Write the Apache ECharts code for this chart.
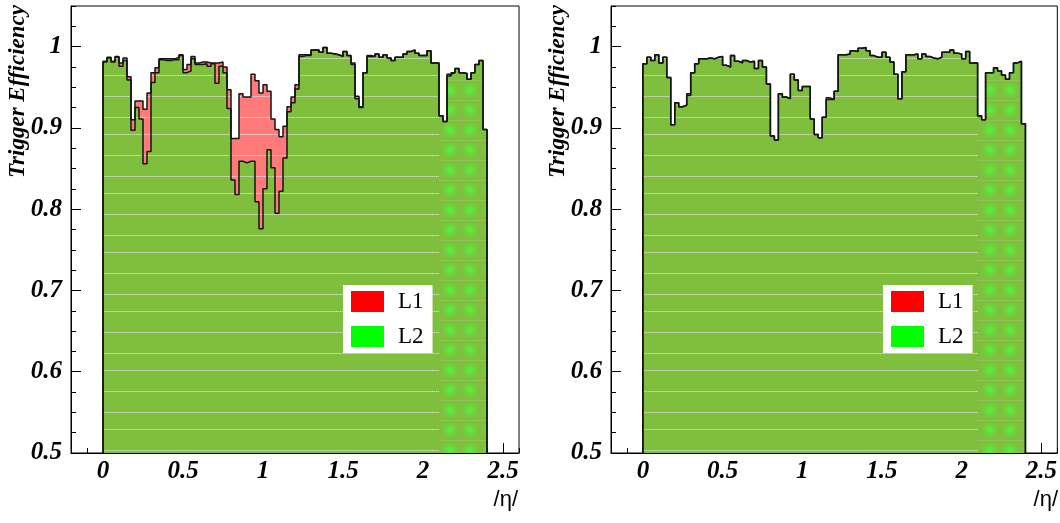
<!DOCTYPE html>
<html><head><meta charset="utf-8">
<script src="https://cdn.jsdelivr.net/npm/echarts@6/dist/echarts.min.js"></script>
<style>html,body{margin:0;padding:0;background:#fff}#c{width:1060px;height:523px}</style>
</head><body><div id="c"></div>
<script>
// ---- data ----
const binWidth = 0.025;          // |eta| bin width, bins from 0 to 2.4
const forwardStartBin = 84;      // |eta| = 2.1, start of forward region
const leftL1 = [0.982,0.987,0.982,0.988,0.980,0.986,0.963,0.910,0.933,0.933,0.923,0.943,0.968,0.974,0.985,0.985,0.985,0.985,0.987,0.990,
  0.972,0.978,0.988,0.980,0.981,0.981,0.980,0.980,0.980,0.981,0.975,0.947,0.887,0.887,0.942,0.938,0.938,0.966,0.958,0.943,
  0.953,0.945,0.911,0.898,0.889,0.902,0.926,0.938,0.953,0.990,0.990,0.990,0.996,0.996,0.993,0.999,0.992,0.991,0.990,0.988,
  0.994,0.989,0.980,0.939,0.926,0.968,0.989,0.988,0.991,0.987,0.990,0.986,0.983,0.987,0.987,0.991,0.994,0.996,0.992,0.989,
  0.989,0.995,0.980,0.980,0.915,0.908,0.966,0.968,0.973,0.968,0.967,0.960,0.968,0.978,0.983,0.898];
const leftL2 = [0.981,0.986,0.981,0.987,0.976,0.983,0.959,0.897,0.925,0.911,0.856,0.871,0.956,0.968,0.984,0.983,0.983,0.984,0.984,0.989,
  0.968,0.970,0.985,0.978,0.978,0.979,0.976,0.979,0.955,0.976,0.968,0.924,0.836,0.818,0.859,0.857,0.859,0.859,0.809,0.776,
  0.825,0.873,0.851,0.795,0.822,0.863,0.920,0.931,0.948,0.988,0.989,0.989,0.996,0.996,0.993,0.999,0.992,0.991,0.990,0.988,
  0.994,0.989,0.978,0.936,0.925,0.968,0.988,0.988,0.991,0.987,0.990,0.986,0.983,0.987,0.987,0.991,0.994,0.996,0.992,0.989,
  0.989,0.995,0.980,0.980,0.915,0.908,0.964,0.968,0.973,0.968,0.967,0.960,0.968,0.978,0.983,0.898];
const rightL1 = [0.979,0.987,0.983,0.990,0.980,0.987,0.962,0.904,0.931,0.926,0.928,0.942,0.968,0.979,0.985,0.985,0.986,0.985,0.987,0.988,
  0.977,0.975,0.989,0.982,0.980,0.983,0.981,0.982,0.973,0.983,0.975,0.954,0.890,0.885,0.942,0.938,0.936,0.966,0.959,0.946,
  0.951,0.951,0.911,0.892,0.888,0.913,0.937,0.935,0.945,0.990,0.990,0.991,0.995,0.994,0.998,0.999,0.995,0.989,0.987,0.987,
  0.993,0.987,0.981,0.966,0.936,0.969,0.990,0.990,0.991,0.985,0.991,0.988,0.986,0.985,0.987,0.993,0.993,0.996,0.992,0.991,
  0.985,0.994,0.980,0.980,0.915,0.910,0.968,0.968,0.974,0.970,0.965,0.960,0.968,0.980,0.982,0.905];
const rightL2 = [0.979,0.987,0.983,0.990,0.980,0.987,0.962,0.904,0.931,0.926,0.928,0.940,0.968,0.979,0.985,0.985,0.986,0.985,0.987,0.988,
  0.977,0.975,0.989,0.982,0.980,0.983,0.981,0.982,0.973,0.983,0.975,0.954,0.890,0.885,0.942,0.938,0.936,0.966,0.959,0.946,
  0.951,0.951,0.911,0.892,0.888,0.913,0.935,0.935,0.945,0.990,0.990,0.991,0.995,0.994,0.998,0.999,0.995,0.989,0.987,0.987,
  0.993,0.987,0.981,0.966,0.936,0.969,0.990,0.990,0.991,0.985,0.991,0.988,0.986,0.985,0.987,0.993,0.993,0.996,0.992,0.991,
  0.985,0.994,0.980,0.980,0.915,0.910,0.968,0.968,0.974,0.970,0.965,0.960,0.968,0.980,0.982,0.905];
const stripesLeft = [0.54, 1.18, 1.83];
const stripesRight = [1.18, 1.82];
const xMajorTicks = [0, 0.5, 1, 1.5, 2, 2.5];
const yMajorTicks = [0.5, 0.6, 0.7, 0.8, 0.9, 1.0];
const legendNames = ['L1', 'L2'];
const yTitle = 'Trigger Efficiency';
const xTitle = '/\u03b7/';

// ---- styling helpers ----
const X_MIN = -0.2, X_MAX = 2.6, Y_MIN = 0.5, Y_MAX = 1.05;
const OLIVE = '#7fbf3d', PINK = '#ff7b7b';
function hatch(base) {
  const c = document.createElement('canvas'); c.width = 4; c.height = 59;
  const g = c.getContext('2d'); g.fillStyle = base; g.fillRect(0, 0, 4, 59);
  g.fillStyle = 'rgba(255,255,255,0.6)';
  [16, 37, 58].forEach(r => { g.fillRect(0, r, 1, 1); g.fillRect(2, r, 1, 1); });
  g.fillStyle = 'rgba(255,255,255,0.25)';
  [16, 37, 58].forEach(r => { g.fillRect(1, r, 1, 1); g.fillRect(3, r, 1, 1); });
  return { image: c, repeat: 'repeat' };
}
function blobs(base) {
  const c = document.createElement('canvas'); c.width = 20; c.height = 20;
  const g = c.getContext('2d'); g.fillStyle = base; g.fillRect(0, 0, 20, 20);
  const gr = g.createRadialGradient(10, 10, 0, 10, 10, 9);
  gr.addColorStop(0, 'rgba(70,255,60,0.95)'); gr.addColorStop(0.5, 'rgba(90,235,60,0.5)'); gr.addColorStop(1, 'rgba(90,235,60,0)');
  g.fillStyle = gr; g.fillRect(0, 0, 20, 20);
  g.fillStyle = 'rgba(255,255,255,0.12)'; g.fillRect(0, 0, 20, 1);
  return { image: c, repeat: 'repeat' };
}
function stepPoints(vals, start, end) {
  const pts = [[start * binWidth, Y_MIN]];
  for (let i = start; i < end; i++) pts.push([i * binWidth, vals[i]]);
  pts.push([end * binWidth, vals[end - 1]]);
  pts.push([end * binWidth, Y_MIN]);
  return pts;
}
const labelFont = { fontFamily: 'Liberation Serif', fontWeight: 'bold', fontStyle: 'italic', fontSize: 25, color: '#000' };

const grids = [], xAxes = [], yAxes = [], series = [], legends = [], graphics = [];
const panels = [
  { left: 71, l1: leftL1, l2: leftL2, stripes: stripesLeft },
  { left: 611, l1: rightL1, l2: rightL2, stripes: stripesRight }
];
panels.forEach((p, g) => {
  grids.push({ left: p.left, top: 6, width: 448, height: 447, show: true, borderColor: '#000', borderWidth: 1, backgroundColor: 'transparent' });
  xAxes.push({ gridIndex: g, type: 'value', position: 'bottom', min: X_MIN, max: X_MAX, interval: 0.1,
    axisLine: { show: true, onZero: false, lineStyle: { color: '#000', width: 1 } },
    axisTick: { inside: true, length: 5, lineStyle: { color: '#000' } }, axisLabel: { show: false }, splitLine: { show: false } });
  xAxes.push({ gridIndex: g, type: 'value', position: 'bottom', min: X_MIN, max: X_MAX,
    axisLine: { show: false, onZero: false },
    axisTick: { inside: true, length: 10, customValues: xMajorTicks, lineStyle: { color: '#000' } },
    axisLabel: Object.assign({ customValues: xMajorTicks, margin: 6, formatter: v => String(+v.toFixed(2)) }, labelFont),
    splitLine: { show: false } });
  yAxes.push({ gridIndex: g, type: 'value', position: 'left', min: Y_MIN, max: Y_MAX, interval: 0.025,
    axisLine: { show: true, onZero: false, lineStyle: { color: '#000', width: 1 } },
    axisTick: { inside: true, length: 5, lineStyle: { color: '#000' } }, axisLabel: { show: false }, splitLine: { show: false } });
  yAxes.push({ gridIndex: g, type: 'value', position: 'left', min: Y_MIN, max: Y_MAX,
    axisLine: { show: false, onZero: false },
    axisTick: { inside: true, length: 10, customValues: yMajorTicks, lineStyle: { color: '#000' } },
    axisLabel: Object.assign({ customValues: yMajorTicks, margin: 9, formatter: v => String(+v.toFixed(2)) }, labelFont),
    splitLine: { show: false } });
  const ax = { xAxisIndex: 2 * g, yAxisIndex: 2 * g };
  const N = p.l2.length;
  series.push(Object.assign({ name: 'L1', type: 'line', step: 'end', symbol: 'none', showSymbol: false, color: '#ff0000',
    data: stepPoints(p.l1, 0, N), lineStyle: { color: '#151515', width: 1.5 },
    areaStyle: { color: hatch(PINK), opacity: 1, origin: 'start' }, silent: true }, ax));
  series.push(Object.assign({ name: 'L2', type: 'line', step: 'end', symbol: 'none', showSymbol: false, color: '#00ff00',
    data: stepPoints(p.l2, 0, N), lineStyle: { width: 0, opacity: 0 },
    areaStyle: { color: hatch(OLIVE), opacity: 1, origin: 'start' }, silent: true }, ax));
  series.push(Object.assign({ name: 'L2 forward', type: 'line', step: 'end', symbol: 'none', showSymbol: false,
    data: stepPoints(p.l2, forwardStartBin, N), lineStyle: { width: 0, opacity: 0 },
    areaStyle: { color: blobs(OLIVE), opacity: 1, origin: 'start' }, silent: true }, ax));
  series.push(Object.assign({ name: 'L2 stripes', type: 'custom', silent: true,
    data: p.stripes.map(x => [x, p.l2[Math.floor(x / binWidth)]]),
    renderItem: (params, api) => {
      const a = api.coord([api.value(0), Y_MIN]), b = api.coord([api.value(0), api.value(1)]);
      return { type: 'line', shape: { x1: Math.round(a[0]) + 0.5, y1: a[1], x2: Math.round(a[0]) + 0.5, y2: b[1] + 3 },
        style: { stroke: 'rgba(60,240,30,0.9)', lineWidth: 1 } };
    } }, ax));
  series.push(Object.assign({ name: 'L2 outline', type: 'line', step: 'end', symbol: 'none', showSymbol: false,
    data: stepPoints(p.l2, 0, N), lineStyle: { color: '#151515', width: 1.5 }, silent: true }, ax));

  legends.push({ orient: 'vertical', left: p.left + 272, top: 285, backgroundColor: '#fff', padding: [5, 9, 5, 8],
    itemWidth: 33, itemHeight: 21, itemGap: 12, icon: 'rect', selectedMode: false,
    textStyle: { fontFamily: 'Liberation Serif', fontSize: 23, color: '#000', padding: [0, 0, 0, 9] },
    data: [{ name: legendNames[0], itemStyle: { color: '#ff0000', borderWidth: 0 } },
           { name: legendNames[1], itemStyle: { color: '#00ff00', borderWidth: 0 } }] });
  graphics.push({ type: 'text', x: p.left - 53, y: 5, rotation: Math.PI / 2,
    style: { text: yTitle, font: 'italic bold 23px "Liberation Serif"', fill: '#000', align: 'right', verticalAlign: 'middle', textAlign: 'right', textVerticalAlign: 'middle' } });
  graphics.push({ type: 'text', x: p.left + 447, y: 500,
    style: { text: xTitle, font: '22px "Liberation Sans"', fill: '#000', align: 'right', verticalAlign: 'middle', textAlign: 'right', textVerticalAlign: 'middle' } });
});

const chart = echarts.init(document.getElementById('c'), null, { renderer: 'canvas' });
chart.setOption({ animation: false, backgroundColor: '#fff', grid: grids, xAxis: xAxes, yAxis: yAxes, series, legend: legends, graphic: graphics });
</script></body></html>
